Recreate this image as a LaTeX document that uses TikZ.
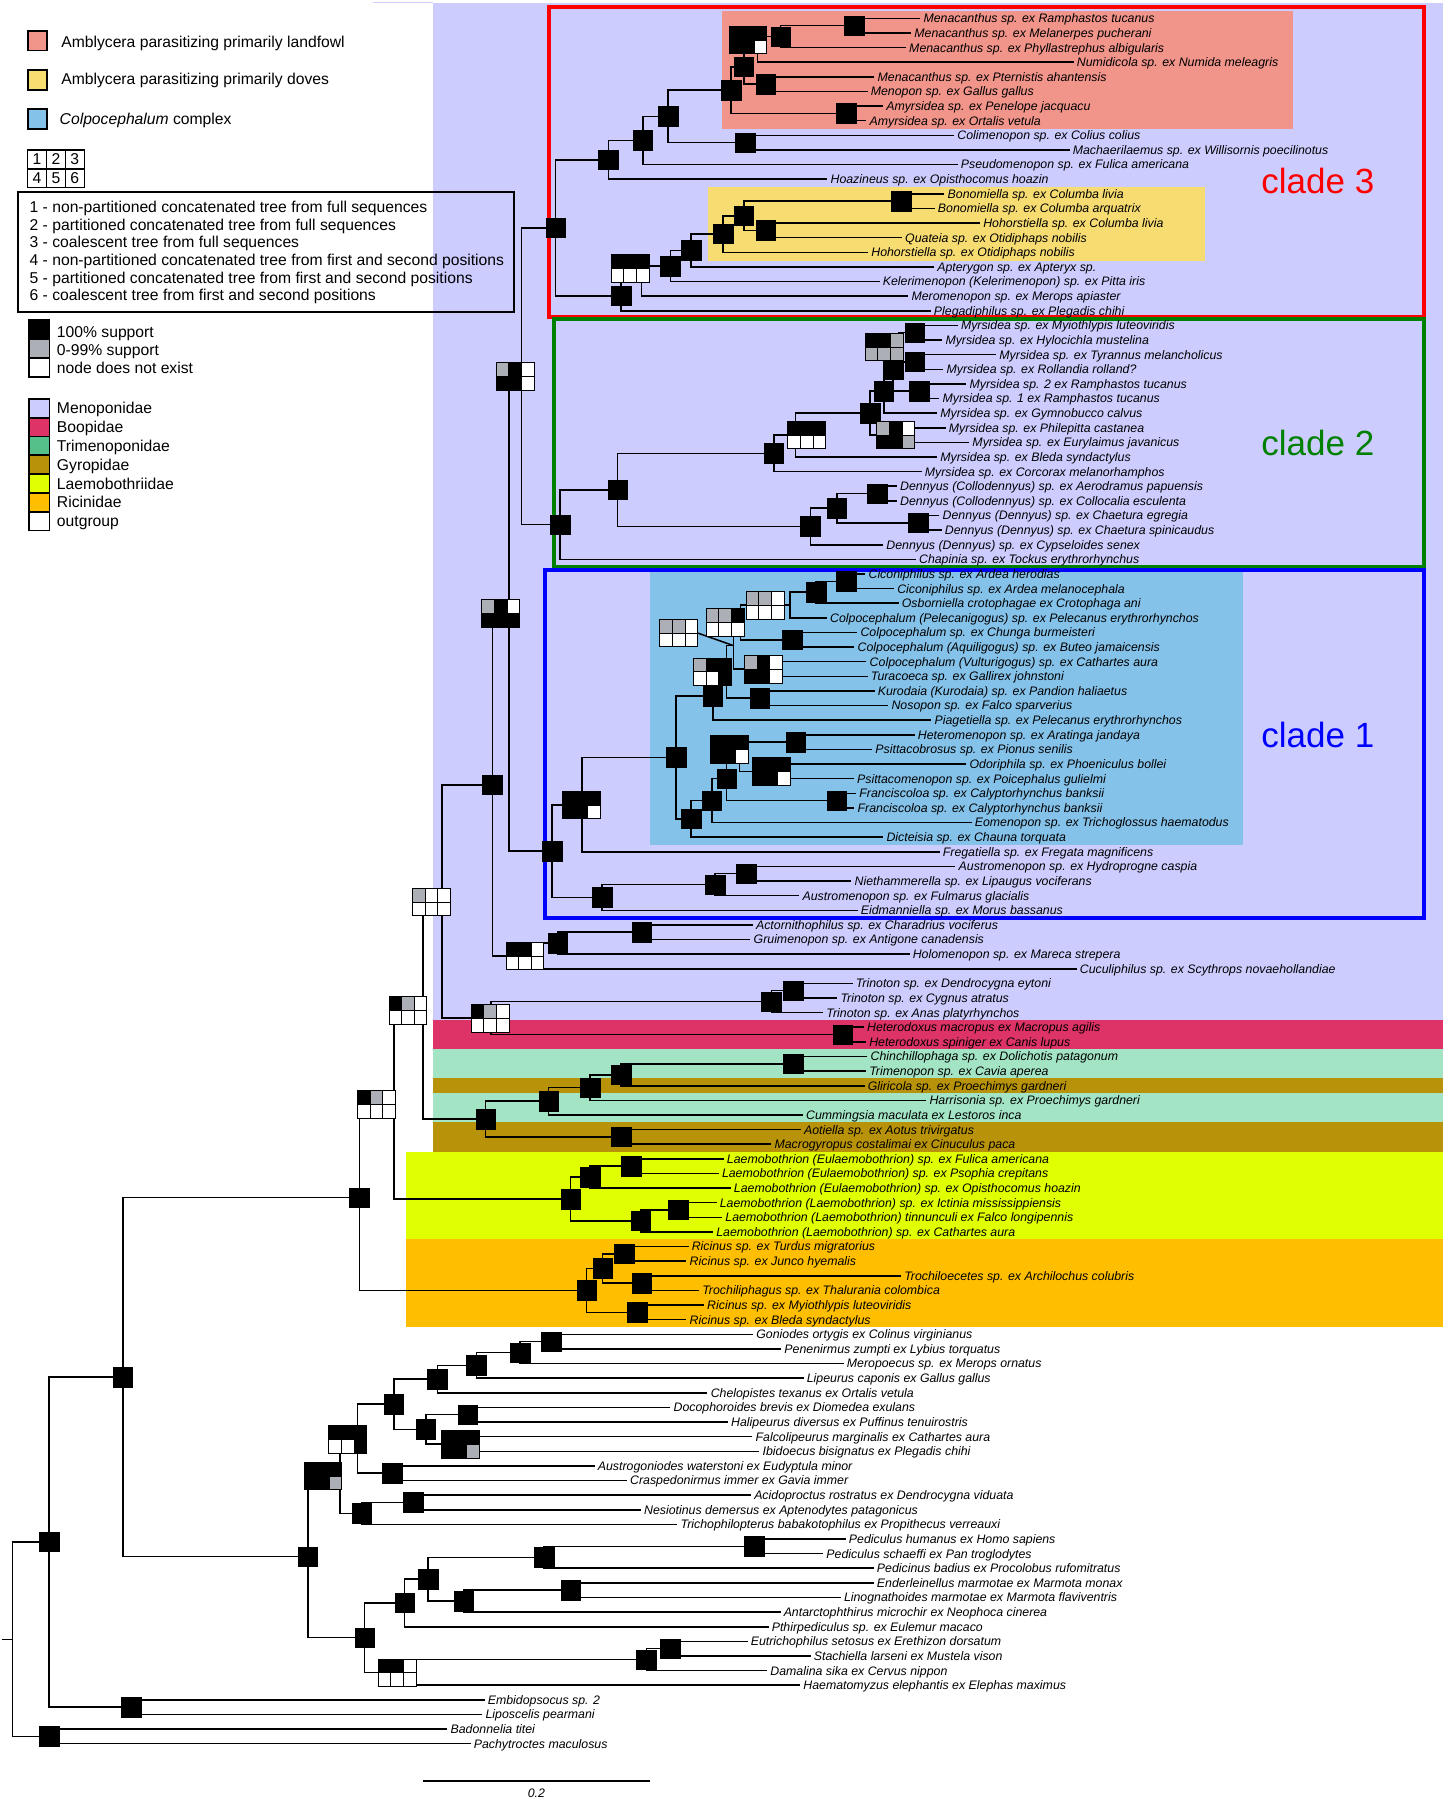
\documentclass[tikz,border=0pt]{standalone}
\usepackage{fontspec}
\setmainfont{Liberation Sans}
\definecolor{menop}{RGB}{204,204,255}
\definecolor{boop}{RGB}{222,51,102}
\definecolor{trimL}{RGB}{85,192,138}
\definecolor{trimB}{RGB}{162,228,196}
\definecolor{gyro}{RGB}{184,147,10}
\definecolor{laemo}{RGB}{224,255,0}
\definecolor{ricin}{RGB}{255,191,0}
\definecolor{fowl}{RGB}{241,148,138}
\definecolor{dove}{RGB}{247,220,114}
\definecolor{colpo}{RGB}{133,194,234}
\definecolor{gg}{RGB}{172,176,182}
\colorlet{kk}{black}
\colorlet{ww}{white}
\definecolor{cred}{RGB}{255,0,0}
\definecolor{cgreen}{RGB}{0,128,0}
\definecolor{cblue}{RGB}{0,0,255}
\tikzset{
  pics/gsix/.style n args={6}{code={
    \filldraw[fill=#1,draw=black,line width=0.5pt] (-9.9pt,0pt) rectangle (-3.3pt,7.2pt);
    \filldraw[fill=#2,draw=black,line width=0.5pt] (-3.3pt,0pt) rectangle (3.3pt,7.2pt);
    \filldraw[fill=#3,draw=black,line width=0.5pt] (3.3pt,0pt) rectangle (9.9pt,7.2pt);
    \filldraw[fill=#4,draw=black,line width=0.5pt] (-9.9pt,-7.2pt) rectangle (-3.3pt,0pt);
    \filldraw[fill=#5,draw=black,line width=0.5pt] (-3.3pt,-7.2pt) rectangle (3.3pt,0pt);
    \filldraw[fill=#6,draw=black,line width=0.5pt] (3.3pt,-7.2pt) rectangle (9.9pt,0pt);
  }},
  tip/.style={anchor=west, inner xsep=1.5pt, inner ysep=0pt, xshift=-1.5pt,
    font=\fontsize{6.45}{7.5}\selectfont\itshape, text height=4.6pt, text depth=0pt},
  br/.style={line width=0.8pt, black},
  bsq/.style={fill=black, draw=black, line width=0.3pt, minimum size=10.2pt, inner sep=0pt},
  leg/.style={anchor=west, inner sep=0pt, font=\fontsize{8.2}{9.5}\selectfont, text height=5.87pt, text depth=0pt},
  lgcell/.style={draw, line width=0.8pt, minimum width=9.86pt, minimum height=9.84pt, inner sep=0pt, font=\fontsize{8.2}{9.5}\selectfont},
  frame/.style={line width=2.1pt},
  clab/.style={anchor=base, inner sep=0pt, font=\fontsize{18.3}{20}\selectfont}
}
\begin{document}
\begin{tikzpicture}[x=0.6pt,y=-0.6pt]
\useasboundingbox (0,0) rectangle (1261,1568);
% ---------- backgrounds ----------
\fill[menop] (377,2.3) rectangle (1257,888.5);
\draw[menop, line width=0.6pt] (325,2.3) -- (377,2.3);
\begin{scope}[y=-7.6422pt, shift={(0pt,-1.9578pt)}]
\fill[boop] (377,69.5) rectangle (1257,71.5);
\fill[trimB] (377,71.5) rectangle (1257,73.5);
\fill[gyro] (377,73.5) rectangle (1257,74.5);
\fill[trimB] (377,74.5) rectangle (1257,76.5);
\fill[gyro] (377,76.5) rectangle (1257,78.5);
\fill[laemo] (354,78.5) rectangle (1257,84.5);
\fill[ricin] (354,84.5) rectangle (1257,90.5);
\end{scope}
\fill[fowl] (629.3,9.6) rectangle (1126.3,112.3);
\fill[dove] (616.8,162.6) rectangle (1050,227.3);
\fill[colpo] (566.3,497) rectangle (1082.8,735.9);
\draw[frame, cred] (478,6.4) rectangle (1240.3,275.8);
\draw[frame, cgreen] (482.5,277.8) rectangle (1240.3,493.5);
\draw[frame, cblue] (474.5,496.2) rectangle (1240.5,799.5);
\node[clab, text=cred] (cl3) at (1148,168.4) {clade 3};
\node[clab, text=cgreen] (cl2) at (1148,396.8) {clade 2};
\node[clab, text=cblue] (cl1) at (1148,650.8) {clade 1};
% ---------- tree ----------
\begin{scope}[y=-7.6422pt, shift={(0pt,-1.9578pt)}]
% tips
\node[tip] (t1) at (804.2,1) {Menacanthus sp. ex Ramphastos tucanus};
\node[tip] (t2) at (796.2,2) {Menacanthus sp. ex Melanerpes pucherani};
\node[tip] (t3) at (791.7,3) {Menacanthus sp. ex Phyllastrephus albigularis};
\node[tip] (t4) at (937.7,4) {Numidicola sp. ex Numida meleagris};
\node[tip] (t5) at (764.2,5) {Menacanthus sp. ex Pternistis ahantensis};
\node[tip] (t6) at (758.2,6) {Menopon sp. ex Gallus gallus};
\node[tip] (t7) at (771.7,7) {Amyrsidea sp. ex Penelope jacquacu};
\node[tip] (t8) at (757.2,8) {Amyrsidea sp. ex Ortalis vetula};
\node[tip] (t9) at (833.7,9) {Colimenopon sp. ex Colius colius};
\node[tip] (t10) at (934.2,10) {Machaerilaemus sp. ex Willisornis poecilinotus};
\node[tip] (t11) at (836.7,11) {Pseudomenopon sp. ex Fulica americana};
\node[tip] (t12) at (723.2,12) {Hoazineus sp. ex Opisthocomus hoazin};
\node[tip] (t13) at (825.2,13) {Bonomiella sp. ex Columba livia};
\node[tip] (t14) at (816.7,14) {Bonomiella sp. ex Columba arquatrix};
\node[tip] (t15) at (856.2,15) {Hohorstiella sp. ex Columba livia};
\node[tip] (t16) at (788.2,16) {Quateia sp. ex Otidiphaps nobilis};
\node[tip] (t17) at (758.7,17) {Hohorstiella sp. ex Otidiphaps nobilis};
\node[tip] (t18) at (816.2,18) {Apterygon sp. ex Apteryx sp.};
\node[tip] (t19) at (768.7,19) {Kelerimenopon (Kelerimenopon) sp. ex Pitta iris};
\node[tip] (t20) at (793.7,20) {Meromenopon sp. ex Merops apiaster};
\node[tip] (t21) at (813.2,21) {Plegadiphilus sp. ex Plegadis chihi};
\node[tip] (t22) at (836.8,22) {Myrsidea sp. ex Myiothlypis luteoviridis};
\node[tip] (t23) at (823.3,23) {Myrsidea sp. ex Hylocichla mustelina};
\node[tip] (t24) at (870.3,24) {Myrsidea sp. ex Tyrannus melancholicus};
\node[tip] (t25) at (824.3,25) {Myrsidea sp. ex Rollandia rolland?};
\node[tip] (t26) at (844.3,26) {Myrsidea sp. 2 ex Ramphastos tucanus};
\node[tip] (t27) at (820.8,27) {Myrsidea sp. 1 ex Ramphastos tucanus};
\node[tip] (t28) at (818.8,28) {Myrsidea sp. ex Gymnobucco calvus};
\node[tip] (t29) at (826.3,29) {Myrsidea sp. ex Philepitta castanea};
\node[tip] (t30) at (846.8,30) {Myrsidea sp. ex Eurylaimus javanicus};
\node[tip] (t31) at (818.8,31) {Myrsidea sp. ex Bleda syndactylus};
\node[tip] (t32) at (805.3,32) {Myrsidea sp. ex Corcorax melanorhamphos};
\node[tip] (t33) at (783.8,33) {Dennyus (Collodennyus) sp. ex Aerodramus papuensis};
\node[tip] (t34) at (783.8,34) {Dennyus (Collodennyus) sp. ex Collocalia esculenta};
\node[tip] (t35) at (820.8,35) {Dennyus (Dennyus) sp. ex Chaetura egregia};
\node[tip] (t36) at (822.8,36) {Dennyus (Dennyus) sp. ex Chaetura spinicaudus};
\node[tip] (t37) at (771.8,37) {Dennyus (Dennyus) sp. ex Cypseloides senex};
\node[tip] (t38) at (800.3,38) {Chapinia sp. ex Tockus erythrorhynchus};
\node[tip] (t39) at (756.3,39) {Ciconiphilus sp. ex Ardea herodias};
\node[tip] (t40) at (781.3,40) {Ciconiphilus sp. ex Ardea melanocephala};
\node[tip] (t41) at (785.3,41) {Osborniella crotophagae ex Crotophaga ani};
\node[tip] (t42) at (722.8,42) {Colpocephalum (Pelecanigogus) sp. ex Pelecanus erythrorhynchos};
\node[tip] (t43) at (749.3,43) {Colpocephalum sp. ex Chunga burmeisteri};
\node[tip] (t44) at (746.8,44) {Colpocephalum (Aquiligogus) sp. ex Buteo jamaicensis};
\node[tip] (t45) at (757.3,45) {Colpocephalum (Vulturigogus) sp. ex Cathartes aura};
\node[tip] (t46) at (758.3,46) {Turacoeca sp. ex Gallirex johnstoni};
\node[tip] (t47) at (764.3,47) {Kurodaia (Kurodaia) sp. ex Pandion haliaetus};
\node[tip] (t48) at (776.3,48) {Nosopon sp. ex Falco sparverius};
\node[tip] (t49) at (813.8,49) {Piagetiella sp. ex Pelecanus erythrorhynchos};
\node[tip] (t50) at (799.3,50) {Heteromenopon sp. ex Aratinga jandaya};
\node[tip] (t51) at (762.3,51) {Psittacobrosus sp. ex Pionus senilis};
\node[tip] (t52) at (844.3,52) {Odoriphila sp. ex Phoeniculus bollei};
\node[tip] (t53) at (746.3,53) {Psittacomenopon sp. ex Poicephalus gulielmi};
\node[tip] (t54) at (748.3,54) {Franciscoloa sp. ex Calyptorhynchus banksii};
\node[tip] (t55) at (746.8,55) {Franciscoloa sp. ex Calyptorhynchus banksii};
\node[tip] (t56) at (848.8,56) {Eomenopon sp. ex Trichoglossus haematodus};
\node[tip] (t57) at (771.9,57) {Dicteisia sp. ex Chauna torquata};
\node[tip] (t58) at (821.0,58) {Fregatiella sp. ex Fregata magnificens};
\node[tip] (t59) at (834.8,59) {Austromenopon sp. ex Hydroprogne caspia};
\node[tip] (t60) at (744.2,60) {Niethammerella sp. ex Lipaugus vociferans};
\node[tip] (t61) at (698.8,61) {Austromenopon sp. ex Fulmarus glacialis};
\node[tip] (t62) at (749.5,62) {Eidmanniella sp. ex Morus bassanus};
\node[tip] (t63) at (658.3,63) {Actornithophilus sp. ex Charadrius vociferus};
\node[tip] (t64) at (656.2,64) {Gruimenopon sp. ex Antigone canadensis};
\node[tip] (t65) at (794.8,65) {Holomenopon sp. ex Mareca strepera};
\node[tip] (t66) at (940.4,66) {Cuculiphilus sp. ex Scythrops novaehollandiae};
\node[tip] (t67) at (745.2,67) {Trinoton sp. ex Dendrocygna eytoni};
\node[tip] (t68) at (731.9,68) {Trinoton sp. ex Cygnus atratus};
\node[tip] (t69) at (719.6,69) {Trinoton sp. ex Anas platyrhynchos};
\node[tip] (t70) at (755.0,70) {Heterodoxus macropus ex Macropus agilis};
\node[tip] (t71) at (756.9,71) {Heterodoxus spiniger ex Canis lupus};
\node[tip] (t72) at (758.1,72) {Chinchillophaga sp. ex Dolichotis patagonum};
\node[tip] (t73) at (756.9,73) {Trimenopon sp. ex Cavia aperea};
\node[tip] (t74) at (755.6,74) {Gliricola sp. ex Proechimys gardneri};
\node[tip] (t75) at (809.4,75) {Harrisonia sp. ex Proechimys gardneri};
\node[tip] (t76) at (701.9,76) {Cummingsia maculata ex Lestoros inca};
\node[tip] (t77) at (700.1,77) {Aotiella sp. ex Aotus trivirgatus};
\node[tip] (t78) at (674.4,78) {Macrogyropus costalimai ex Cinuculus paca};
\node[tip] (t79) at (632.9,79) {Laemobothrion (Eulaemobothrion) sp. ex Fulica americana};
\node[tip] (t80) at (628.6,80) {Laemobothrion (Eulaemobothrion) sp. ex Psophia crepitans};
\node[tip] (t81) at (639.0,81) {Laemobothrion (Eulaemobothrion) sp. ex Opisthocomus hoazin};
\node[tip] (t82) at (626.7,82) {Laemobothrion (Laemobothrion) sp. ex Ictinia mississippiensis};
\node[tip] (t83) at (631.6,83) {Laemobothrion (Laemobothrion) tinnunculi ex Falco longipennis};
\node[tip] (t84) at (623.7,84) {Laemobothrion (Laemobothrion) sp. ex Cathartes aura};
\node[tip] (t85) at (602.3,85) {Ricinus sp. ex Turdus migratorius};
\node[tip] (t86) at (600.5,86) {Ricinus sp. ex Junco hyemalis};
\node[tip] (t87) at (787.4,87) {Trochiloecetes sp. ex Archilochus colubris};
\node[tip] (t88) at (611.5,88) {Trochiliphagus sp. ex Thalurania colombica};
\node[tip] (t89) at (615.7,89) {Ricinus sp. ex Myiothlypis luteoviridis};
\node[tip] (t90) at (600.5,90) {Ricinus sp. ex Bleda syndactylus};
\node[tip] (t91) at (658.5,91) {Goniodes ortygis ex Colinus virginianus};
\node[tip] (t92) at (683.0,92) {Penenirmus zumpti ex Lybius torquatus};
\node[tip] (t93) at (737.4,93) {Meropoecus sp. ex Merops ornatus};
\node[tip] (t94) at (702.5,94) {Lipeurus caponis ex Gallus gallus};
\node[tip] (t95) at (618.8,95) {Chelopistes texanus ex Ortalis vetula};
\node[tip] (t96) at (586.5,96) {Docophoroides brevis ex Diomedea exulans};
\node[tip] (t97) at (636.6,97) {Halipeurus diversus ex Puffinus tenuirostris};
\node[tip] (t98) at (657.9,98) {Falcolipeurus marginalis ex Cathartes aura};
\node[tip] (t99) at (664.0,99) {Ibidoecus bisignatus ex Plegadis chihi};
\node[tip] (t100) at (520.5,100) {Austrogoniodes waterstoni ex Eudyptula minor};
\node[tip] (t101) at (548.6,101) {Craspedonirmus immer ex Gavia immer};
\node[tip] (t102) at (656.7,102) {Acidoproctus rostratus ex Dendrocygna viduata};
\node[tip] (t103) at (560.8,103) {Nesiotinus demersus ex Aptenodytes patagonicus};
\node[tip] (t104) at (592.6,104) {Trichophilopterus babakotophilus ex Propithecus verreauxi};
\node[tip] (t105) at (739.2,105) {Pediculus humanus ex Homo sapiens};
\node[tip] (t106) at (719.6,106) {Pediculus schaeffi ex Pan troglodytes};
\node[tip] (t107) at (763.6,107) {Pedicinus badius ex Procolobus rufomitratus};
\node[tip] (t108) at (763.6,108) {Enderleinellus marmotae ex Marmota monax};
\node[tip] (t109) at (734.9,109) {Linognathoides marmotae ex Marmota flaviventris};
\node[tip] (t110) at (682.4,110) {Antarctophthirus microchir ex Neophoca cinerea};
\node[tip] (t111) at (672.0,111) {Pthirpediculus sp. ex Eulemur macaco};
\node[tip] (t112) at (653.7,112) {Eutrichophilus setosus ex Erethizon dorsatum};
\node[tip] (t113) at (708.6,113) {Stachiella larseni ex Mustela vison};
\node[tip] (t114) at (670.8,114) {Damalina sika ex Cervus nippon};
\node[tip] (t115) at (699.5,115) {Haematomyzus elephantis ex Elephas maximus};
\node[tip] (t116) at (424.6,116) {Embidopsocus sp. 2};
\node[tip] (t117) at (422.7,117) {Liposcelis pearmani};
\node[tip] (t118) at (392.2,118) {Badonnelia titei};
\node[tip] (t119) at (412.4,119) {Pachytroctes maculosus};
% internal nodes
\coordinate (nK) at (744,1.5);
\coordinate (nJ) at (680,2.25);
\coordinate (nH) at (660,3.125);
\coordinate (nI) at (667,5.5);
\coordinate (nF) at (648,4.3125);
\coordinate (nG) at (737,7.5);
\coordinate (nD) at (637,5.906);
\coordinate (nE) at (649,9.5);
\coordinate (nC) at (582,7.703);
\coordinate (nB) at (560,9.35);
\coordinate (nA) at (530,10.68);
\coordinate (nT) at (785,13.5);
\coordinate (nS) at (667,15.5);
\coordinate (nU) at (648,14.5);
\coordinate (nV) at (630,15.75);
\coordinate (nW) at (602,16.875);
\coordinate (nX) at (584,17.94);
\coordinate (nY) at (559,18.97);
\coordinate (nZ) at (541,19.98);
\coordinate (c3) at (484,15.33);
\coordinate (nN1) at (797,22.5);
\coordinate (nN3) at (797,24.5);
\coordinate (nN2) at (783,23.5);
\coordinate (nN4) at (778,25);
\coordinate (nN5) at (801,26.5);
\coordinate (nM5) at (770,26.5);
\coordinate (nM6) at (785,29.5);
\coordinate (nM4) at (758,28);
\coordinate (nM3) at (693,29.5);
\coordinate (nM2) at (674,30.75);
\coordinate (nD3) at (764,33.5);
\coordinate (nD4) at (800,35.5);
\coordinate (nD2) at (729,34.5);
\coordinate (nD1) at (706,35.75);
\coordinate (nM1) at (538,33.25);
\coordinate (c2) at (488,35.625);
\coordinate (nP1) at (737,39.5);
\coordinate (nP2) at (711,40.25);
\coordinate (nP3) at (688,41.125);
\coordinate (nP5) at (690,43.5);
\coordinate (nP4) at (645,42.31);
\coordinate (nP7) at (672,45.5);
\coordinate (nP6) at (639,43.9);
\coordinate (nP9) at (662,47.5);
\coordinate (nP8) at (633,45.7);
\coordinate (nP10) at (621,47.35);
\coordinate (nP16) at (693,50.5);
\coordinate (nP17) at (680,52.5);
\coordinate (nP15) at (644,51.5);
\coordinate (nP18) at (729,54.5);
\coordinate (nP14) at (633,53);
\coordinate (nP13) at (620,54.5);
\coordinate (nP12) at (602,55.75);
\coordinate (nP11) at (589,51.55);
\coordinate (nP19) at (507,54.8);
\coordinate (nP22) at (650,59.5);
\coordinate (nP21) at (623,60.25);
\coordinate (nP20) at (524.5,61.125);
\coordinate (c1) at (481,57.96);
\coordinate (nR6) at (559,63.5);
\coordinate (nR5) at (486,64.25);
\coordinate (nR4) at (468,65.125);
\coordinate (nR1) at (454.3,25.48);
\coordinate (nR2) at (443.3,41.72);
\coordinate (nR3) at (429,53.42);
\coordinate (nR11) at (691,67.5);
\coordinate (nR10) at (672,68.25);
\coordinate (nB1) at (734,70.5);
\coordinate (nR9) at (427.7,69.375);
\coordinate (nR7) at (385,61.4);
\coordinate (nR17) at (691,72.5);
\coordinate (nR16) at (541,73.25);
\coordinate (nR15) at (514,74.125);
\coordinate (nR13) at (478,75.06);
\coordinate (nR14) at (541,77.5);
\coordinate (nR12) at (423,76.28);
\coordinate (nR8) at (368.6,68.84);
\coordinate (nL3) at (550,79.5);
\coordinate (nL2) at (514,80.25);
\coordinate (nL5) at (591,82.5);
\coordinate (nL4) at (558,83.25);
\coordinate (nL1) at (497,81.75);
\coordinate (nR18) at (343,75.3);
\coordinate (nRi3) at (544,85.5);
\coordinate (nRi4) at (559,87.5);
\coordinate (nRi2) at (525,86.5);
\coordinate (nRi5) at (555,89.5);
\coordinate (nRi1) at (511,88);
\coordinate (nR19) at (313,81.65);
\coordinate (nO17) at (480,91.5);
\coordinate (nO16) at (453,92.25);
\coordinate (nO15) at (415,93.125);
\coordinate (nO13) at (381,94.06);
\coordinate (nO18) at (407.5,96.5);
\coordinate (nO19) at (410,98.5);
\coordinate (nO14) at (371,97.5);
\coordinate (nO11) at (343,95.78);
\coordinate (nO10) at (341.5,100.5);
\coordinate (nO8) at (311.6,98.14);
\coordinate (nO12) at (360,102.5);
\coordinate (nO9) at (315,103.25);
\coordinate (nO6) at (296.3,100.7);
\coordinate (nO27) at (657,105.5);
\coordinate (nO25) at (474,106.25);
\coordinate (nO28) at (497,108.5);
\coordinate (nO26) at (404,109.25);
\coordinate (nO24) at (373,107.75);
\coordinate (nO20) at (352.5,109.375);
\coordinate (nO23) at (584,112.5);
\coordinate (nO22) at (563,113.25);
\coordinate (nO21) at (354,114.125);
\coordinate (nO7) at (317.7,111.75);
\coordinate (nO2) at (268.2,106.2);
\coordinate (nO1) at (107,93.93);
\coordinate (nO4) at (114.3,116.5);
\coordinate (nO3) at (42.8,105.2);
\coordinate (nO5) at (42.8,118.5);
\coordinate (nO0) at (11,111.86);
\coordinate (rootstub) at (1.5,111.86);
\coordinate (P6box) at (591.3,43.04);
% connectors
\begin{scope}[br]
\draw (t1.west) -| (nK) |- (t2.west);
\draw (nK) -| (nJ) |- (t3.west);
\draw (nJ) -| (nH) |- (t4.west);
\draw (t5.west) -| (nI) |- (t6.west);
\draw (nH) -| (nF) |- (nI);
\draw (t7.west) -| (nG) |- (t8.west);
\draw (nF) -| (nD) |- (nG);
\draw (t9.west) -| (nE) |- (t10.west);
\draw (nD) -| (nC) |- (nE);
\draw (nC) -| (nB) |- (t11.west);
\draw (nB) -| (nA) |- (t12.west);
\draw (t13.west) -| (nT) |- (t14.west);
\draw (t15.west) -| (nS) |- (t16.west);
\draw (nT) -| (nU) |- (nS);
\draw (nU) -| (nV) |- (t17.west);
\draw (nV) -| (nW) |- (t18.west);
\draw (nW) -| (nX) |- (t19.west);
\draw (nX) -| (nY) |- (t20.west);
\draw (nY) -| (nZ) |- (t21.west);
\draw (nA) -| (c3) |- (nZ);
\draw (t22.west) -| (nN1) |- (t23.west);
\draw (t24.west) -| (nN3) |- (t25.west);
\draw (nN1) -| (nN2) |- (nN3);
\draw (t26.west) -| (nN5) |- (t27.west);
\draw (nN2) -| (nN4) |- (nN5);
\draw (nN4) -| (nM5) |- (t28.west);
\draw (t29.west) -| (nM6) |- (t30.west);
\draw (nM5) -| (nM4) |- (nM6);
\draw (nM4) -| (nM3) |- (t31.west);
\draw (nM3) -| (nM2) |- (t32.west);
\draw (t33.west) -| (nD3) |- (t34.west);
\draw (t35.west) -| (nD4) |- (t36.west);
\draw (nD3) -| (nD2) |- (nD4);
\draw (nD2) -| (nD1) |- (t37.west);
\draw (nM2) -| (nM1) |- (nD1);
\draw (nM1) -| (c2) |- (t38.west);
\draw (t39.west) -| (nP1) |- (t40.west);
\draw (nP1) -| (nP2) |- (t41.west);
\draw (nP2) -| (nP3) |- (t42.west);
\draw (t43.west) -| (nP5) |- (t44.west);
\draw (nP3) -| (nP4) |- (nP5);
\draw (t45.west) -| (nP7) |- (t46.west);
\draw (nP4) -| (nP6) |- (nP7);
\draw (t47.west) -| (nP9) |- (t48.west);
\draw (nP6) -| (nP8) |- (nP9);
\draw (nP8) -| (nP10) |- (t49.west);
\draw (t50.west) -| (nP16) |- (t51.west);
\draw (t52.west) -| (nP17) |- (t53.west);
\draw (nP16) -| (nP15) |- (nP17);
\draw (t54.west) -| (nP18) |- (t55.west);
\draw (nP15) -| (nP14) |- (nP18);
\draw (nP14) -| (nP13) |- (t56.west);
\draw (nP13) -| (nP12) |- (t57.west);
\draw (nP10) -| (nP11) |- (nP12);
\draw (nP11) -| (nP19) |- (t58.west);
\draw (t59.west) -| (nP22) |- (t60.west);
\draw (nP22) -| (nP21) |- (t61.west);
\draw (nP21) -| (nP20) |- (t62.west);
\draw (nP19) -| (c1) |- (nP20);
\draw ([xshift=9.9pt]P6box) -- (nP6);
\draw (t63.west) -| (nR6) |- (t64.west);
\draw (nR6) -| (nR5) |- (t65.west);
\draw (nR5) -| (nR4) |- (t66.west);
\draw (c3) -| (nR1) |- (c2);
\draw (nR1) -| (nR2) |- (c1);
\draw (nR2) -| (nR3) |- (nR4);
\draw (t67.west) -| (nR11) |- (t68.west);
\draw (nR11) -| (nR10) |- (t69.west);
\draw (t70.west) -| (nB1) |- (t71.west);
\draw (nR10) -| (nR9) |- (nB1);
\draw (nR3) -| (nR7) |- (nR9);
\draw (t72.west) -| (nR17) |- (t73.west);
\draw (nR17) -| (nR16) |- (t74.west);
\draw (nR16) -| (nR15) |- (t75.west);
\draw (nR15) -| (nR13) |- (t76.west);
\draw (t77.west) -| (nR14) |- (t78.west);
\draw (nR13) -| (nR12) |- (nR14);
\draw (nR7) -| (nR8) |- (nR12);
\draw (t79.west) -| (nL3) |- (t80.west);
\draw (nL3) -| (nL2) |- (t81.west);
\draw (t82.west) -| (nL5) |- (t83.west);
\draw (nL5) -| (nL4) |- (t84.west);
\draw (nL2) -| (nL1) |- (nL4);
\draw (nR8) -| (nR18) |- (nL1);
\draw (t85.west) -| (nRi3) |- (t86.west);
\draw (t87.west) -| (nRi4) |- (t88.west);
\draw (nRi3) -| (nRi2) |- (nRi4);
\draw (t89.west) -| (nRi5) |- (t90.west);
\draw (nRi2) -| (nRi1) |- (nRi5);
\draw (nR18) -| (nR19) |- (nRi1);
\draw (t91.west) -| (nO17) |- (t92.west);
\draw (nO17) -| (nO16) |- (t93.west);
\draw (nO16) -| (nO15) |- (t94.west);
\draw (nO15) -| (nO13) |- (t95.west);
\draw (t96.west) -| (nO18) |- (t97.west);
\draw (t98.west) -| (nO19) |- (t99.west);
\draw (nO18) -| (nO14) |- (nO19);
\draw (nO13) -| (nO11) |- (nO14);
\draw (t100.west) -| (nO10) |- (t101.west);
\draw (nO11) -| (nO8) |- (nO10);
\draw (t102.west) -| (nO12) |- (t103.west);
\draw (nO12) -| (nO9) |- (t104.west);
\draw (nO8) -| (nO6) |- (nO9);
\draw (t105.west) -| (nO27) |- (t106.west);
\draw (nO27) -| (nO25) |- (t107.west);
\draw (t108.west) -| (nO28) |- (t109.west);
\draw (nO28) -| (nO26) |- (t110.west);
\draw (nO25) -| (nO24) |- (nO26);
\draw (nO24) -| (nO20) |- (t111.west);
\draw (t112.west) -| (nO23) |- (t113.west);
\draw (nO23) -| (nO22) |- (t114.west);
\draw (nO22) -| (nO21) |- (t115.west);
\draw (nO20) -| (nO7) |- (nO21);
\draw (nO6) -| (nO2) |- (nO7);
\draw (nR19) -| (nO1) |- (nO2);
\draw (t116.west) -| (nO4) |- (t117.west);
\draw (nO1) -| (nO3) |- (nO4);
\draw (t118.west) -| (nO5) |- (t119.west);
\draw (nO3) -| (nO0) |- (nO5);
\draw (rootstub) -- (nO0);
\end{scope}
% support boxes
\foreach \n in {nK,nJ,nI,nF,nG,nD,nE,nC,nB,nA,nT,nS,nU,nV,nW,nX,nZ,c3,
  nN1,nN3,nN4,nN5,nM5,nM4,nM2,nD3,nD4,nD2,nD1,nM1,c2,
  nP1,nP2,nP5,nP9,nP10,nP16,nP18,nP14,nP13,nP12,nP11,nP22,nP21,nP20,c1,
  nR6,nR5,nR3,nR11,nR10,nB1,nR17,nR16,nR15,nR13,nR14,nR12,
  nL3,nL2,nL5,nL4,nL1,nRi3,nRi4,nRi2,nRi5,nRi1,nR19,
  nO17,nO16,nO15,nO13,nO18,nO14,nO11,nO10,nO12,nO9,nO27,nO25,nO28,nO26,
  nO24,nO20,nO23,nO22,nO7,nO2,nO1,nO4,nO3,nO5}{
  \node[bsq] (b\n) at (\n) {};
}
\pic at (651.6,2.48) {gsix={kk}{kk}{kk}{kk}{kk}{ww}};
\pic at (549,18.12) {gsix={kk}{kk}{kk}{ww}{ww}{ww}};
\pic at (770.3,23.49) {gsix={kk}{kk}{gg}{gg}{gg}{gg}};
\pic at (780.3,29.5) {gsix={gg}{kk}{ww}{kk}{kk}{gg}};
\pic at (702.8,29.5) {gsix={kk}{kk}{kk}{ww}{ww}{ww}};
\pic at (666.5,41.17) {gsix={gg}{gg}{ww}{ww}{ww}{ww}};
\pic at (631.6,42.3) {gsix={gg}{gg}{kk}{ww}{ww}{ww}};
\pic at (P6box) {gsix={gg}{gg}{ww}{ww}{ww}{ww}};
\pic at (665,45.54) {gsix={gg}{kk}{ww}{kk}{kk}{ww}};
\pic at (620.5,45.7) {gsix={gg}{kk}{kk}{ww}{ww}{kk}};
\pic at (635.3,51.02) {gsix={kk}{kk}{kk}{kk}{kk}{ww}};
\pic at (672,52.5) {gsix={kk}{kk}{kk}{kk}{kk}{ww}};
\pic at (506.3,54.8) {gsix={kk}{kk}{kk}{kk}{kk}{ww}};
\pic at (448.8,25.5) {gsix={gg}{kk}{ww}{kk}{kk}{ww}};
\pic at (436.3,41.72) {gsix={gg}{kk}{ww}{kk}{kk}{kk}};
\pic at (457.3,65.14) {gsix={kk}{kk}{ww}{ww}{ww}{ww}};
\pic at (376,61.44) {gsix={gg}{ww}{ww}{ww}{ww}{ww}};
\pic at (355.4,68.87) {gsix={kk}{gg}{ww}{ww}{ww}{ww}};
\pic at (427,69.4) {gsix={kk}{gg}{ww}{ww}{ww}{ww}};
\pic at (328,75.3) {gsix={kk}{gg}{ww}{ww}{ww}{ww}};
\pic at (281.3,100.7) {gsix={kk}{kk}{kk}{kk}{kk}{gg}};
\pic at (303,98.2) {gsix={kk}{kk}{kk}{ww}{ww}{kk}};
\pic at (401,98.55) {gsix={kk}{kk}{kk}{kk}{kk}{gg}};
\pic at (346,114.15) {gsix={kk}{kk}{ww}{ww}{ww}{ww}};
\end{scope}
% scale bar
\coordinate (sb1) at (368.4,1551.6);
\coordinate (sb2) at (566.3,1551.6);
\draw[line width=0.8pt] (sb1) -- (sb2);
\node[font=\fontsize{6.45}{7.5}\selectfont\itshape, inner sep=0pt] (sblab) at (467.3,1561.7) {0.2};
% ---------- legend ----------
\draw[line width=0.9pt, fill=fowl] (24.1,27) rectangle (41.2,44.1);
\node[leg] (lfowl) at (53.1,36.3) {Amblycera parasitizing primarily landfowl};
\draw[line width=0.9pt, fill=dove] (24.1,61) rectangle (41.2,78.4);
\node[leg] (ldove) at (53.1,68.5) {Amblycera parasitizing primarily doves};
\draw[line width=0.9pt, fill=colpo] (24.1,95.2) rectangle (41.2,112.6);
\node[leg] (lcolpo) at (51.7,103.9) {\textit{Colpocephalum} complex};
\node[lgcell] (lg1) at (32.3,138.8) {1};
\node[lgcell] (lg2) at (48.75,138.8) {2};
\node[lgcell] (lg3) at (65.2,138.8) {3};
\node[lgcell] (lg4) at (32.3,155.2) {4};
\node[lgcell] (lg5) at (48.75,155.2) {5};
\node[lgcell] (lg6) at (65.2,155.2) {6};
\draw[line width=1pt] (16,167.5) rectangle (447.6,272);
\node[leg] (k1) at (25.5,180.6) {1 - non-partitioned concatenated tree from full sequences};
\node[leg] (k2) at (25.5,195.9) {2 - partitioned concatenated tree from full sequences};
\node[leg] (k3) at (25.5,211.1) {3 - coalescent tree from full sequences};
\node[leg] (k4) at (25.5,226.4) {4 - non-partitioned concatenated tree from first and second positions};
\node[leg] (k5) at (25.5,241.8) {5 - partitioned concatenated tree from first and second positions};
\node[leg] (k6) at (25.5,257.1) {6 - coalescent tree from first and second positions};
\draw[line width=0.9pt, fill=black] (25.5,278.7) rectangle (43,295.5);
\draw[line width=0.9pt, fill=gg] (25.5,295.5) rectangle (43,312);
\draw[line width=0.9pt, fill=white] (25.5,312) rectangle (43,328.6);
\node[leg] (s1) at (49.3,288.8) {100\% support};
\node[leg] (s2) at (49.3,304.8) {0-99\% support};
\node[leg] (s3) at (49.3,320.2) {node does not exist};
\draw[line width=0.9pt, fill=menop] (25.5,347.5) rectangle (43,363.87);
\draw[line width=0.9pt, fill=boop] (25.5,363.87) rectangle (43,380.24);
\draw[line width=0.9pt, fill=trimL] (25.5,380.24) rectangle (43,396.61);
\draw[line width=0.9pt, fill=gyro] (25.5,396.61) rectangle (43,412.98);
\draw[line width=0.9pt, fill=laemo] (25.5,412.98) rectangle (43,429.35);
\draw[line width=0.9pt, fill=ricin] (25.5,429.35) rectangle (43,445.72);
\draw[line width=0.9pt, fill=white] (25.5,445.72) rectangle (43,462.1);
\node[leg] (f1) at (49.3,355.7) {Menoponidae};
\node[leg] (f2) at (49.3,372.1) {Boopidae};
\node[leg] (f3) at (49.3,388.4) {Trimenoponidae};
\node[leg] (f4) at (49.3,404.8) {Gyropidae};
\node[leg] (f5) at (49.3,421.2) {Laemobothriidae};
\node[leg] (f6) at (49.3,437.5) {Ricinidae};
\node[leg] (f7) at (49.3,453.9) {outgroup};
\end{tikzpicture}
\end{document}
